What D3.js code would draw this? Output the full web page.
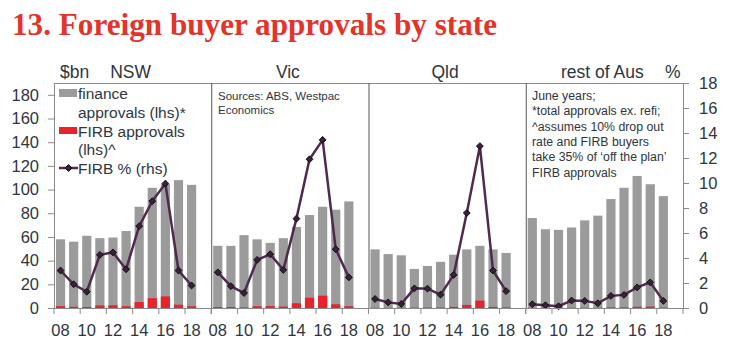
<!doctype html>
<html>
<head>
  <script src="https://d3js.org/d3.v7.min.js" charset="utf-8"></script>
  <style>
    body { margin: 0; background: #fff; }
    text { font-family: "Liberation Sans", Arial, sans-serif; fill: #2e3540; }
  </style>
</head>
<body>
<div id="viz"></div>
<script>
// years (June years) and panel names
var years = ["08","09","10","11","12","13","14","15","16","17","18"];
var states = ["NSW", "Vic", "Qld", "rest of Aus"];

// finance approvals, $bn (lhs)
var financeNSW  = [58, 56, 61, 59, 59.5, 65, 85.5, 101.5, 104.5, 108, 104];
var financeVic  = [52.5, 52.5, 61.5, 58, 55, 59, 68.5, 78.5, 85.5, 83, 90];
var financeQld  = [49.5, 45.5, 44.5, 33, 35.5, 39, 45, 49.5, 52.5, 49.5, 46.5];
var financeRest = [76, 66.5, 66, 68, 74, 78, 92, 101.5, 111.5, 104.5, 94.5];

// FIRB approvals, $bn (lhs)
var firbNSW  = [1.5, 1, 0.8, 2.2, 2.3, 1.5, 5, 8.3, 9.8, 2.8, 1.5];
var firbVic  = [0.8, 0.8, 0.5, 1.5, 1.6, 1.2, 4, 8.7, 10.4, 3.1, 1.5];
var firbQld  = [0.2, 0.2, 0.2, 0.3, 0.4, 0.4, 0.9, 2.6, 6.2, 0.9, 0.5];
var firbRest = [0.1, 0.1, 0.1, 0.2, 0.2, 0.2, 0.5, 0.6, 1, 1.2, 0.3];

// FIRB share, % (rhs)
var pctNSW  = [3.0, 1.9, 1.3, 4.25, 4.45, 3.1, 6.55, 8.55, 9.95, 3.0, 1.8];
var pctVic  = [2.85, 1.75, 1.2, 3.85, 4.3, 3.05, 7.15, 11.9, 13.45, 4.7, 2.45];
var pctQld  = [0.72, 0.45, 0.32, 1.57, 1.55, 1.07, 2.65, 7.6, 12.95, 3.0, 1.35];
var pctRest = [0.3, 0.22, 0.14, 0.6, 0.57, 0.38, 0.97, 1.05, 1.65, 2.05, 0.57];

var finance = [financeNSW, financeVic, financeQld, financeRest];
var firb = [firbNSW, firbVic, firbQld, firbRest];
var pct = [pctNSW, pctVic, pctQld, pctRest];

// axis ticks
var leftTicks = [0, 20, 40, 60, 80, 100, 120, 140, 160, 180];
var rightTicks = [0, 2, 4, 6, 8, 10, 12, 14, 16, 18];
var labelYears = ["08","10","12","14","16","18"];

var W = 729, H = 353;
var L = 54, R = 683, T = 83, B = 308;
var pw = (R - L) / 4;
var slot = pw / 12;

var gray = "#9b9b9b", red = "#e8232b", purple = "#4e2a4c", axisCol = "#8a8a8a";

var svg = d3.select("#viz").append("svg")
  .attr("width", W).attr("height", H);

// title
svg.append("text")
  .attr("x", 12).attr("y", 35)
  .attr("textLength", 485).attr("lengthAdjust", "spacingAndGlyphs")
  .style("font-family", "'Liberation Serif', 'DejaVu Serif', serif")
  .style("font-weight", "bold").style("font-size", "32px")
  .style("fill", "#e3342b")
  .text("13. Foreign buyer approvals by state");

// scales
var yL = d3.scaleLinear().domain([0, 190]).range([B, T]);
var yR = d3.scaleLinear().domain([0, 18]).range([B, T]);

// left axis
var gL = svg.append("g").attr("transform", "translate(" + L + ",0)")
  .call(d3.axisLeft(yL).tickValues(leftTicks).tickSize(6).tickSizeOuter(0).tickPadding(9));
// right axis
var gR = svg.append("g").attr("transform", "translate(" + R + ",0)")
  .call(d3.axisRight(yR).tickValues(rightTicks).tickSize(6).tickSizeOuter(0).tickPadding(10));
[gL, gR].forEach(function(g) {
  g.select(".domain").attr("stroke", axisCol);
  g.selectAll(".tick line").attr("stroke", axisCol);
  g.selectAll(".tick text").style("font-size", "16.5px").attr("fill", "#2e3540");
});

// top border
svg.append("line").attr("x1", L).attr("x2", R).attr("y1", T + 0.5).attr("y2", T + 0.5)
  .attr("stroke", axisCol);

states.forEach(function(st, p) {
  var x0 = L + p * pw;
  var x = d3.scaleBand().domain(years)
    .range([x0, x0 + 11 * slot]).paddingInner(0.3).paddingOuter(0.15);
  var g = svg.append("g");

  // finance bars
  g.selectAll(".fin").data(finance[p]).enter().append("rect")
    .attr("x", function(d, i) { return x(years[i]); })
    .attr("width", x.bandwidth())
    .attr("y", function(d) { return yL(d); })
    .attr("height", function(d) { return B - yL(d); })
    .attr("fill", gray);

  // FIRB bars
  g.selectAll(".firb").data(firb[p]).enter().append("rect")
    .attr("x", function(d, i) { return x(years[i]); })
    .attr("width", x.bandwidth())
    .attr("y", function(d) { return yL(d); })
    .attr("height", function(d) { return B - yL(d); })
    .attr("fill", red);

  // FIRB % line
  var ln = d3.line()
    .x(function(d, i) { return x(years[i]) + x.bandwidth() / 2; })
    .y(function(d) { return yR(d); });
  g.append("path").datum(pct[p]).attr("d", ln)
    .attr("fill", "none").attr("stroke", purple).attr("stroke-width", 2.5);
  g.selectAll(".mk").data(pct[p]).enter().append("path")
    .attr("d", d3.symbol(d3.symbolDiamond2, 30))
    .attr("transform", function(d, i) {
      return "translate(" + (x(years[i]) + x.bandwidth() / 2) + "," + yR(d) + ")";
    })
    .attr("fill", "#3a2038").attr("stroke", "#111").attr("stroke-width", 1);

  // panel divider
  if (p > 0) {
    svg.append("line").attr("x1", x0 + 0.5).attr("x2", x0 + 0.5).attr("y1", T).attr("y2", B)
      .attr("stroke", "#555");
  }

  // bottom ticks at slot boundaries
  var tks = d3.range(0, 13, 2).map(function(k) { return x0 + k * slot; });
  g.selectAll(".xt").data(tks).enter().append("line")
    .attr("x1", function(d) { return d; }).attr("x2", function(d) { return d; })
    .attr("y1", B).attr("y2", B + 6).attr("stroke", axisCol);

  // year labels centred under bars
  g.selectAll(".xl").data(labelYears).enter().append("text")
    .attr("x", function(d) { return x(d) + x.bandwidth() / 2; })
    .attr("y", 335.5).attr("text-anchor", "middle")
    .style("font-size", "16.5px").text(function(d) { return d; });

  // panel title
  svg.append("text").attr("x", x0 + pw / 2 - 2).attr("y", 78)
    .attr("text-anchor", "middle").style("font-size", "17.5px").text(st);
});

// bottom axis line
svg.append("line").attr("x1", L).attr("x2", R).attr("y1", B + 0.5).attr("y2", B + 0.5)
  .attr("stroke", axisCol);

// unit labels
svg.append("text").attr("x", 60).attr("y", 78).style("font-size", "17.5px").text("$bn");
svg.append("text").attr("x", 665).attr("y", 78).style("font-size", "17.5px").text("%");

// legend
var lg = svg.append("g").style("font-size", "15.5px");
lg.append("rect").attr("x", 59).attr("y", 89).attr("width", 18).attr("height", 8).attr("fill", gray);
lg.append("text").attr("x", 78).attr("y", 99).text("finance");
lg.append("text").attr("x", 78).attr("y", 118).text("approvals (lhs)*");
lg.append("rect").attr("x", 59).attr("y", 127).attr("width", 18).attr("height", 7).attr("fill", red);
lg.append("text").attr("x", 78).attr("y", 137).text("FIRB approvals");
lg.append("text").attr("x", 78).attr("y", 155).text("(lhs)^");
lg.append("line").attr("x1", 59).attr("x2", 78).attr("y1", 168).attr("y2", 168)
  .attr("stroke", purple).attr("stroke-width", 2.5);
lg.append("path").attr("d", d3.symbol(d3.symbolDiamond2, 30))
  .attr("transform", "translate(68.5,168)").attr("fill", "#3a2038").attr("stroke", "#111");
lg.append("text").attr("x", 78).attr("y", 174).text("FIRB % (rhs)");

// notes
var n1 = svg.append("g").style("font-size", "11.5px");
["Sources: ABS, Westpac", "Economics"].forEach(function(t, i) {
  n1.append("text").attr("x", 218).attr("y", 100 + i * 13.5).text(t);
});
var n2 = svg.append("g").style("font-size", "12.3px");
["June years;", "*total approvals ex. refi;", "^assumes 10% drop out",
 "rate and FIRB buyers", "take 35% of \u2018off the plan\u2019", "FIRB approvals"].forEach(function(t, i) {
  n2.append("text").attr("x", 532).attr("y", 100 + i * 15.3).text(t);
});
</script>
</body>
</html>
